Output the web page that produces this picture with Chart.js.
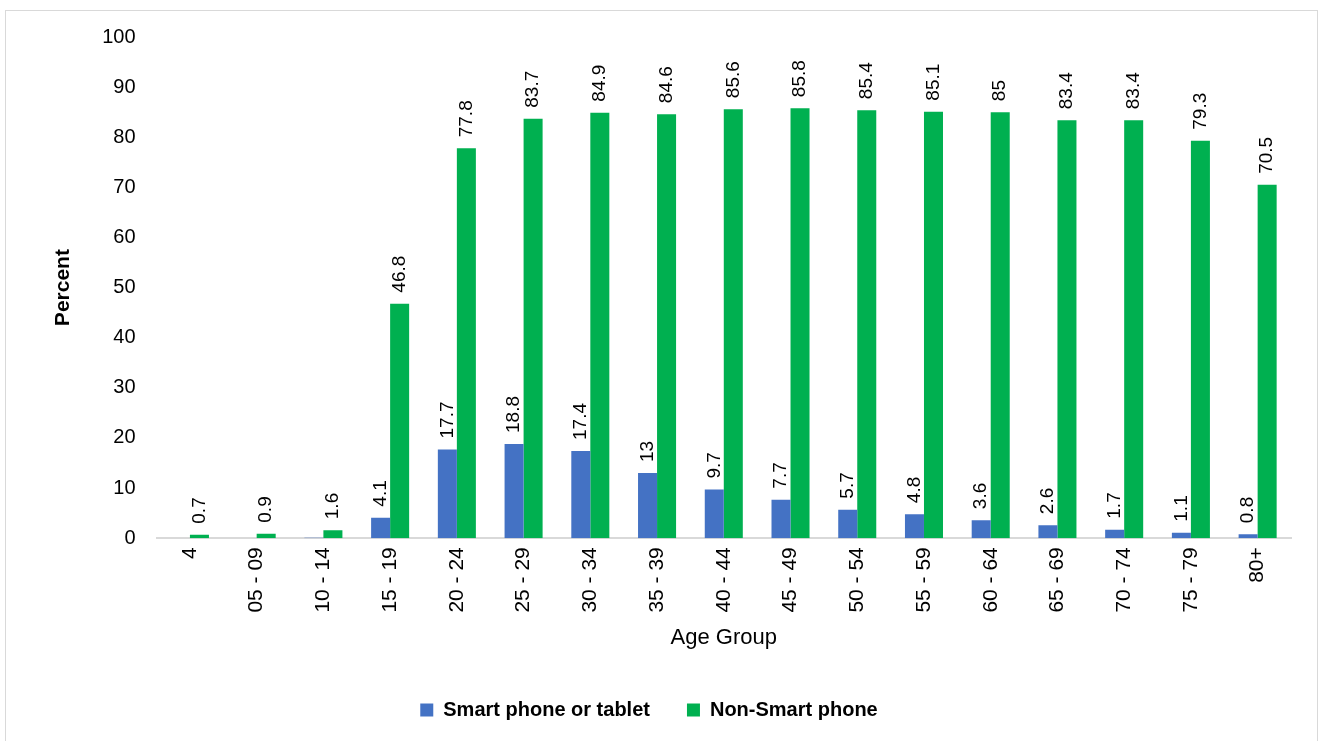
<!DOCTYPE html>
<html>
<head>
<meta charset="utf-8">
<script src="https://cdn.jsdelivr.net/npm/chart.js@4"></script>
<style>
	html, body { margin: 0; padding: 0; background: #fff; }
	#wrap { width: 1320px; height: 741px; }
</style>
</head>
<body>
<div id="wrap"><canvas id="chart" width="1320" height="741"></canvas></div>
<script>
// age groups along the x axis
const ageGroups = ['4', '05 - 09', '10 - 14', '15 - 19', '20 - 24', '25 - 29', '30 - 34', '35 - 39',
	'40 - 44', '45 - 49', '50 - 54', '55 - 59', '60 - 64', '65 - 69', '70 - 74', '75 - 79', '80+'];
const smartPhone = [0, 0, 0.1, 4.1, 17.7, 18.8, 17.4, 13, 9.7, 7.7, 5.7, 4.8, 3.6, 2.6, 1.7, 1.1, 0.8];
const nonSmartPhone = [0.7, 0.9, 1.6, 46.8, 77.8, 83.7, 84.9, 84.6, 85.6, 85.8, 85.4, 85.1, 85, 83.4, 83.4, 79.3, 70.5];
const yTicks = [0, 10, 20, 30, 40, 50, 60, 70, 80, 90, 100];

const FONT = '"Liberation Sans", Arial, sans-serif';

// rotated value labels sitting above each bar (tiny bars under 0.5 carry none)
const barLabels = {
	id: 'barLabels',
	afterDatasetsDraw(chart) {
		const ctx = chart.ctx;
		ctx.save();
		ctx.font = `19px ${FONT}`;
		ctx.fillStyle = '#000';
		ctx.textAlign = 'left';
		ctx.textBaseline = 'middle';
		chart.data.datasets.forEach((ds, di) => {
			chart.getDatasetMeta(di).data.forEach((bar, i) => {
				const v = ds.data[i];
				if (v == null || v < 0.5) return;
				ctx.save();
				ctx.translate(bar.x, bar.y - 11);
				ctx.rotate(-Math.PI / 2);
				ctx.fillText(String(v), 0, 0);
				ctx.restore();
			});
		});
		ctx.restore();
	},
};

// light grey frame round the whole chart; legend nudged left of the plot centre
const frame = {
	id: 'frame',
	afterLayout(chart) {
		if (chart.legend) chart.legend.left -= 40;
	},
	beforeDraw(chart) {
		const ctx = chart.ctx;
		ctx.save();
		ctx.strokeStyle = '#d9d9d9';
		ctx.lineWidth = 1;
		ctx.strokeRect(5.5, 10.5, 1312, 740);
		ctx.restore();
	},
};

new Chart(document.getElementById('chart'), {
	type: 'bar',
	data: {
		labels: ageGroups,
		datasets: [
			{ label: 'Smart phone or tablet', data: smartPhone, backgroundColor: '#4472C4' },
			{ label: 'Non-Smart phone', data: nonSmartPhone, backgroundColor: '#00B050' },
		],
	},
	options: {
		responsive: false,
		animation: false,
		categoryPercentage: 0.57,
		barPercentage: 1.0,
		layout: { padding: { top: 37, right: 29, left: 47, bottom: 11 } },
		scales: {
			x: {
				grid: { display: false },
				border: { display: true, color: '#d9d9d9', width: 2 },
				ticks: { color: '#000', font: { family: FONT, size: 21 }, minRotation: 90, maxRotation: 90, padding: 1 },
				title: { display: true, text: 'Age Group', color: '#000', font: { family: FONT, size: 22 }, padding: { top: 11, bottom: 12 } },
			},
			y: {
				min: 0, max: 100,
				afterBuildTicks: axis => { axis.ticks = yTicks.map(v => ({ value: v })); },
				grid: { display: false },
				border: { display: false },
				ticks: { color: '#000', font: { family: FONT, size: 20 }, padding: 13 },
				title: { display: true, text: 'Percent', color: '#000', font: { family: FONT, size: 21, weight: 'bold' }, padding: { bottom: 13 } },
			},
		},
		plugins: {
			legend: {
				position: 'bottom',
				labels: { color: '#000', font: { family: FONT, size: 20, weight: 'bold' }, boxWidth: 13, boxHeight: 13, padding: 37 },
			},
			tooltip: { enabled: false },
		},
	},
	plugins: [frame, barLabels],
});
</script>
</body>
</html>
